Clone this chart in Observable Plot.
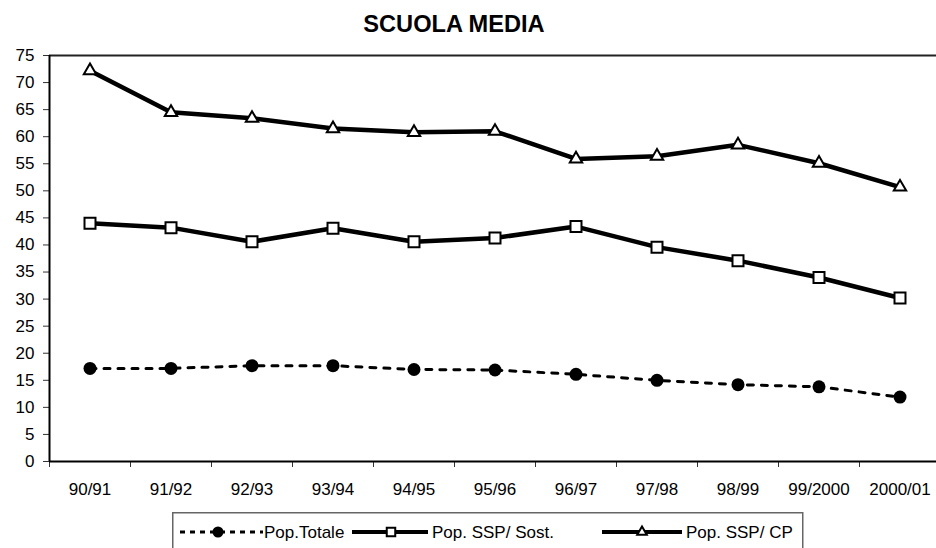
<!DOCTYPE html>
<html>
<head>
<meta charset="utf-8">
<script src="https://cdn.jsdelivr.net/npm/d3@7"></script>
<script src="https://cdn.jsdelivr.net/npm/@observablehq/plot@0.6"></script>
<style>
  html, body { margin: 0; padding: 0; background: white; }
  #wrap { position: relative; width: 936px; height: 548px; overflow: hidden; background: white;
          font-family: "Liberation Sans", Arial, sans-serif; color: black; }
  #title { position: absolute; left: 0; top: 13px; width: 908px; text-align: center;
           font-weight: bold; font-size: 23.6px; line-height: 23px; }
  #chart { position: absolute; left: 0; top: 0; }
  #legend { position: absolute; left: 172px; top: 512px; }
</style>
</head>
<body>
<div id="wrap">
  <div id="chart"></div>
  <div id="title">SCUOLA MEDIA</div>
  <div id="legend"></div>
</div>
<script>
const categories = ["90/91","91/92","92/93","93/94","94/95","95/96","96/97","97/98","98/99","99/2000","2000/01"];
const popTotale = [17.2, 17.2, 17.7, 17.7, 17.0, 16.9, 16.1, 15.0, 14.2, 13.8, 11.9];
const popSost   = [44.0, 43.2, 40.6, 43.1, 40.6, 41.3, 43.4, 39.6, 37.1, 34.0, 30.2];
const popCP     = [72.2, 64.5, 63.4, 61.5, 60.8, 61.0, 55.9, 56.4, 58.5, 55.1, 50.7];
const seriesNames = ["Pop.Totale", "Pop. SSP/ Sost.", "Pop. SSP/ CP"];
const yTicks = d3.range(0, 80, 5);

const rows = vals => vals.map((v, i) => ({x: i + 0.5, v, cat: categories[i]}));
const dTot = rows(popTotale), dSost = rows(popSost), dCP = rows(popCP);

const chart = Plot.plot({
  width: 936, height: 500,
  marginTop: 55, marginBottom: 39, marginLeft: 49, marginRight: 0,
  style: {fontFamily: "'Liberation Sans', Arial, sans-serif", fontSize: "17px", color: "black", background: "white", overflow: "hidden"},
  x: {type: "linear", domain: [0, categories.length], range: [49, 940]},
  y: {domain: [0, 75]},
  marks: [
    Plot.ruleY([75], {stroke: "#222", strokeWidth: 2}),
    Plot.axisY(yTicks, {tickSize: 6, tickPadding: 9, fontSize: 17, label: null, stroke: "#333"}),
    Plot.axisX(d3.range(0, categories.length), {tickSize: 6, tickFormat: () => "", label: null, stroke: "#333"}),
    Plot.axisX(categories.map((c, i) => i + 0.5), {tickSize: 0, tickPadding: 21, fontSize: 17, label: null,
      tickFormat: d => categories[Math.round(d - 0.5)]}),
    Plot.ruleY([0], {stroke: "black", strokeWidth: 2}),
    Plot.ruleX([0], {stroke: "black", strokeWidth: 2}),
    Plot.line(dTot, {x: "x", y: "v", stroke: "black", strokeWidth: 3, strokeDasharray: "6,8"}),
    Plot.line(dSost, {x: "x", y: "v", stroke: "black", strokeWidth: 4.5}),
    Plot.line(dCP, {x: "x", y: "v", stroke: "black", strokeWidth: 4.5}),
    Plot.dot(dTot, {x: "x", y: "v", r: 6.5, fill: "black", stroke: null}),
    Plot.dot(dSost, {x: "x", y: "v", symbol: "square", r: 6.2, fill: "white", stroke: "black", strokeWidth: 2}),
    Plot.dot(dCP, {x: "x", y: "v", symbol: "triangle", r: 4.6, fill: "white", stroke: "black", strokeWidth: 2})
  ]
});
document.getElementById("chart").appendChild(chart);

// Legend
const lg = d3.select("#legend").append("svg")
  .attr("width", 660).attr("height", 60)
  .style("font-family", "'Liberation Sans', Arial, sans-serif").style("font-size", "17px");
lg.append("rect").attr("x", 0.75).attr("y", 0.75).attr("width", 630).attr("height", 80)
  .attr("fill", "white").attr("stroke", "#666").attr("stroke-width", 1.5);
const ly = 20, ty = 26;
const items = [
  {x1: 8, x2: 91, mx: 46, tx: 92, dash: "5,5", w: 3, sym: "circle"},
  {x1: 180, x2: 256, mx: 219, tx: 260, dash: null, w: 4, sym: "square"},
  {x1: 430, x2: 510, mx: 470, tx: 514, dash: null, w: 4, sym: "triangle"}
];
items.forEach((it, i) => {
  const ln = lg.append("line").attr("x1", it.x1).attr("x2", it.x2).attr("y1", ly).attr("y2", ly)
    .attr("stroke", "black").attr("stroke-width", it.w);
  if (it.dash) ln.attr("stroke-dasharray", it.dash);
  if (it.sym === "circle") {
    lg.append("circle").attr("cx", it.mx).attr("cy", ly).attr("r", 5.5).attr("fill", "black");
  } else {
    const s = it.sym === "square" ? d3.symbolSquare : d3.symbolTriangle;
    const size = it.sym === "square" ? 72 : 40;
    lg.append("path").attr("d", d3.symbol(s, size)()).attr("transform", `translate(${it.mx},${ly})`)
      .attr("fill", "white").attr("stroke", "black").attr("stroke-width", 2);
  }
  lg.append("text").attr("x", it.tx).attr("y", ty).text(seriesNames[i]);
});
</script>
</body>
</html>
